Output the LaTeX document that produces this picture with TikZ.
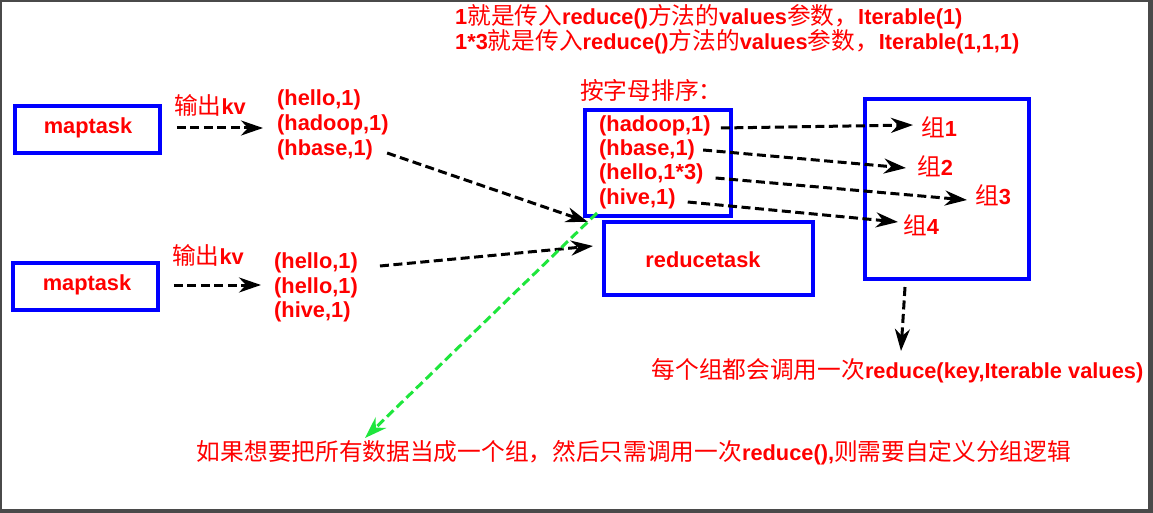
\documentclass[tikz,border=0pt]{standalone}
\usepackage{fontspec}
\setmainfont{Liberation Sans}
\newfontfamily\cjk{Noto Sans CJK SC}
\newcommand\zhs[1]{{\cjk\mdseries\fontsize{23.7}{24}\selectfont #1}}
\usetikzlibrary{arrows.meta,shadows}
\definecolor{framegray}{HTML}{4A4A4A}
\definecolor{txtred}{HTML}{FF0000}
\definecolor{boxblue}{HTML}{0000FF}
\definecolor{dgreen}{HTML}{1EE63C}
\tikzset{
  lbl/.style={text=txtred, font=\fontsize{21.8}{24}\selectfont\bfseries, inner sep=0pt},
  box/.style={draw=boxblue, line width=3.5pt, fill=white, rectangle, inner sep=0pt,
    drop shadow={shadow xshift=2pt, shadow yshift=-2pt, opacity=0.25}},
  arr/.style={draw=black, line width=3pt, dash pattern=on 9pt off 4.5pt,
    -{Stealth[length=22pt,width=15pt,inset=7pt]}},
  garr/.style={draw=dgreen, line width=3pt, dash pattern=on 9pt off 4.5pt,
    -{Stealth[length=22pt,width=15pt,inset=7pt]}},
}
\begin{document}
\begin{tikzpicture}[x=1pt,y=-1pt]
\useasboundingbox (0,0) rectangle (1153,513);
\fill[framegray] (0,0) rectangle (1153,513);
\fill[white] (2,2) rectangle (1148,509);

% boxes
\node[box, minimum width=145pt, minimum height=47pt] (m1) at (87.5,129.5) {};
\node[lbl] (m1t) at (88,128) {maptask};
\node[box, minimum width=145pt, minimum height=47pt] (m2) at (85.5,286.5) {};
\node[lbl] (m2t) at (87,285) {maptask};
\node[box, minimum width=146pt, minimum height=106pt] (sbox) at (658,163) {};
\node[box, minimum width=209pt, minimum height=73pt] (r) at (708.5,258.5) {};
\node[lbl] (rt) at (703,260) {reducetask};
\node[box, minimum width=164pt, minimum height=180pt] (g) at (947,189) {};

% top notes
\node[lbl, anchor=west] (top1) at (455,17) {1\zhs{就是传入}reduce()\zhs{方法的}values\zhs{参数，}Iterable(1)};
\node[lbl, anchor=west] (top2) at (455,42) {1*3\zhs{就是传入}reduce()\zhs{方法的}values\zhs{参数，}Iterable(1,1,1)};
\node[lbl, anchor=west] (sorthd) at (580,90) {\zhs{按字母排序：}};

% map outputs
\node[lbl] (kv1) at (210,105) {\zhs{输出}kv};
\node[lbl] (kv2) at (208,255) {\zhs{输出}kv};
\node[lbl, anchor=west] (b1a) at (277,100) {(hello,1)};
\node[lbl, anchor=west] (b1b) at (277,125) {(hadoop,1)};
\node[lbl, anchor=west] (b1c) at (277,150) {(hbase,1)};
\node[lbl, anchor=west] (b2a) at (274,263) {(hello,1)};
\node[lbl, anchor=west] (b2b) at (274,288) {(hello,1)};
\node[lbl, anchor=west] (b2c) at (274,312) {(hive,1)};

% sorted
\node[lbl, anchor=west] (s1) at (599,126) {(hadoop,1)};
\node[lbl, anchor=west] (s2) at (599,150) {(hbase,1)};
\node[lbl, anchor=west] (s3) at (599,174) {(hello,1*3)};
\node[lbl, anchor=west] (s4) at (599,199) {(hive,1)};

% groups
\node[lbl, anchor=west] (g1) at (921,127) {\zhs{组}1};
\node[lbl, anchor=west] (g2) at (917,166) {\zhs{组}2};
\node[lbl, anchor=west] (g3) at (975,195) {\zhs{组}3};
\node[lbl, anchor=west] (g4) at (903,225) {\zhs{组}4};

% notes
\node[lbl] (each) at (897.5,371) {\zhs{每个组都会调用一次}reduce(key,Iterable values)};
\node[lbl] (custom) at (634,453) {\zhs{如果想要把所有数据当成一个组，然后只需调用一次}reduce(),\zhs{则需要自定义分组逻辑}};

% coordinates for free ends
\coordinate (e1) at (263,128);
\coordinate (e2) at (261,285);
\coordinate (e3) at (588,222);
\coordinate (e4) at (593,246);
\coordinate (gs) at (597,213);
\coordinate (ge) at (365,438);
\coordinate (gd) at (905,287);
\coordinate (gde) at (901,351);
\coordinate (t1) at (913,125);
\coordinate (t2) at (906,168);
\coordinate (t3) at (967,200);
\coordinate (t4) at (898,222);

% connectors
\draw[arr] ([xshift=15pt]m1.east |- m1t) -- (e1);
\draw[arr] ([xshift=14pt]m2.east |- m2t) -- (e2);
\draw[arr] ([xshift=14pt,yshift=-3pt]b1c.east) -- (e3);
\draw[arr] ([xshift=22pt,yshift=-3pt]b2a.east) -- (e4);
\draw[garr] (gs) -- (ge);
\draw[arr] ([xshift=10pt,yshift=-2pt]s1.east) -- (t1);
\draw[arr] ([xshift=8pt]s2.east) -- (t2);
\draw[arr] ([xshift=12pt,yshift=-4pt]s3.east) -- (t3);
\draw[arr] ([xshift=12pt,yshift=-3pt]s4.east) -- (t4);
\draw[arr] (gd) -- (gde);
\end{tikzpicture}
\end{document}
